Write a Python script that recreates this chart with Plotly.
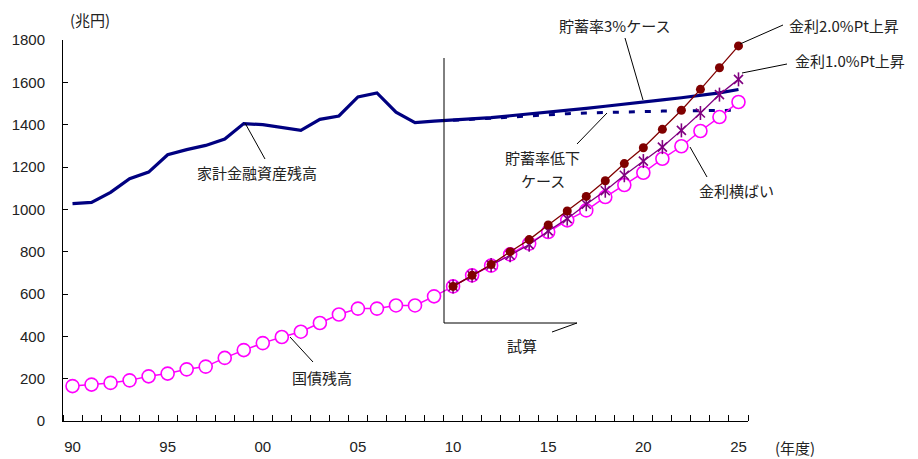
import plotly.graph_objects as go

# 年度 (fiscal years)
years = list(range(1990, 2026))
proj_years = list(range(2010, 2026))

# 家計金融資産残高 (兆円): 1990-2009 actual, 2010-2025 savings-rate 3% case
household_assets = [1027, 1033, 1080, 1145, 1176, 1258, 1282, 1302, 1332, 1405,
                    1400, 1386, 1373, 1425, 1441, 1531, 1550, 1459, 1410, 1417,
                    1422, 1428, 1433, 1442, 1450, 1458, 1468, 1477, 1487, 1496,
                    1508, 1517, 1527, 1538, 1550, 1566]
# 貯蓄率低下ケース (2010-2025)
assets_low_saving = [1421, 1424, 1430, 1436, 1442, 1447, 1452, 1455, 1458, 1460,
                     1462, 1464, 1465, 1466, 1467, 1468]

# 国債残高 (兆円): 1990-2025, 金利横ばい beyond 2010
jgb_flat = [165, 172, 180, 192, 211, 224, 244, 257, 298, 335,
            368, 397, 422, 463, 503, 531, 531, 546, 546, 589,
            636, 688, 734, 787, 838, 893, 948, 995, 1058, 1115,
            1173, 1239, 1298, 1370, 1436, 1507]
# 金利1.0%Pt上昇 (2010-2025)
jgb_up10 = [636, 687, 737, 783, 833, 898, 956, 1024, 1088, 1161,
            1228, 1294, 1373, 1455, 1542, 1614]
# 金利2.0%Pt上昇 (2010-2025)
jgb_up20 = [636, 688, 739, 800, 857, 926, 992, 1061, 1135, 1216,
            1291, 1378, 1468, 1567, 1669, 1772]

x_tick_vals = [1990, 1995, 2000, 2005, 2010, 2015, 2020, 2025]
x_tick_text = ["90", "95", "00", "05", "10", "15", "20", "25"]
y_tick_vals = [0, 200, 400, 600, 800, 1000, 1200, 1400, 1600, 1800]

NAVY = "#000080"
PINK = "#FF00FF"
PURPLE = "#800080"
MAROON = "#800000"

W, H = 918, 459
ML, MR, MT, MB = 63, 170, 40, 38
PW, PH = W - ML - MR, H - MT - MB


def px(x):
    return (x - ML) / PW


def py(y):
    return (H - MB - y) / PH


fig = go.Figure()

fig.add_trace(go.Scatter(x=proj_years, y=assets_low_saving, mode="lines",
                         line=dict(color=NAVY, width=3, dash="6px,10px"),
                         hoverinfo="skip"))
fig.add_trace(go.Scatter(x=years, y=household_assets, mode="lines",
                         line=dict(color=NAVY, width=3.2)))
fig.add_trace(go.Scatter(x=years, y=jgb_flat, mode="lines+markers",
                         line=dict(color=PINK, width=1.5),
                         marker=dict(symbol="circle", size=13, color="white",
                                     line=dict(color=PINK, width=1.6))))
fig.add_trace(go.Scatter(x=proj_years, y=jgb_up10, mode="lines+markers",
                         line=dict(color=PURPLE, width=1.3),
                         marker=dict(symbol="x-thin-open", size=9, color=PURPLE,
                                     line=dict(color=PURPLE, width=1.6))))
fig.add_trace(go.Scatter(x=proj_years, y=jgb_up10, mode="markers",
                         marker=dict(symbol="line-ns-open", size=10, color=PURPLE,
                                     line=dict(color=PURPLE, width=1.6))))
fig.add_trace(go.Scatter(x=proj_years, y=jgb_up20, mode="lines+markers",
                         line=dict(color=MAROON, width=1.3),
                         marker=dict(symbol="circle", size=9, color=MAROON,
                                     line=dict(color=MAROON, width=0))))

jp_font = dict(family="Noto Sans CJK JP", size=15, color="#222222")

labels = [
    ("(兆円)", 90, 19, "center"),
    ("(年度)", 795, 447, "center"),
    ("家計金融資産残高", 195, 172, "left"),
    ("貯蓄率3%ケース", 557, 25, "left"),
    ("貯蓄率低下", 542, 157, "center"),
    ("ケース", 543, 180, "center"),
    ("金利2.0%Pt上昇", 787, 25, "left"),
    ("金利1.0%Pt上昇", 793, 60, "left"),
    ("金利横ばい", 697, 190, "left"),
    ("国債残高", 290, 377, "left"),
    ("試算", 505, 345, "left"),
]
for text, x, y, anchor in labels:
    fig.add_annotation(text=text, x=px(x), y=py(y), xref="paper", yref="paper",
                       xanchor=anchor, yanchor="middle", showarrow=False,
                       font=jp_font)

leaders = [
    (245, 123, 265, 159),
    (625, 38, 643, 100),
    (577, 144, 607, 113),
    (740, 44, 783, 25),
    (742, 73, 787, 64),
    (690, 147, 707, 177),
    (290, 337, 313, 362),
    # 試算 bracket
    (444, 58, 444, 323),
    (444, 323, 577, 323),
    (577, 323, 552, 332),
]
for x0, y0, x1, y1 in leaders:
    fig.add_shape(type="line", xref="paper", yref="paper",
                  x0=px(x0), y0=py(y0), x1=px(x1), y1=py(y1),
                  line=dict(color="black", width=1))

tick_font = dict(family="Liberation Sans", size=15, color="#222222")

fig.update_layout(
    width=W, height=H,
    margin=dict(l=ML, r=MR, t=MT, b=MB),
    paper_bgcolor="white", plot_bgcolor="white",
    showlegend=False,
    xaxis=dict(range=[1989.5, 2025.5], tickvals=x_tick_vals, ticktext=x_tick_text,
               ticks="", showgrid=False, zeroline=False, automargin=False,
               showline=True, linecolor="black", linewidth=1,
               tickfont=tick_font, ticklabelstandoff=12,
               minor=dict(ticks="inside", tick0=1989.5, dtick=1, ticklen=6,
                          tickcolor="black", tickwidth=1, showgrid=False)),
    yaxis=dict(range=[0, 1800], tickvals=y_tick_vals, ticks="inside", ticklen=5,
               tickcolor="black", showgrid=False, zeroline=False, automargin=False,
               showline=True, linecolor="black", linewidth=1,
               tickfont=tick_font, ticklabelstandoff=14),
)

fig.write_html("out.html")
